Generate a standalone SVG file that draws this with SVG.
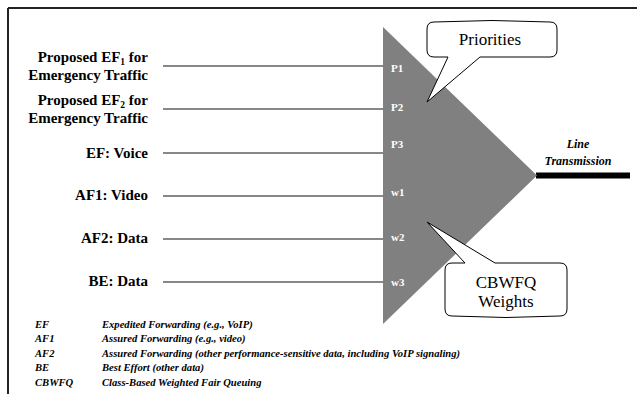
<svg xmlns="http://www.w3.org/2000/svg" width="637" height="394" viewBox="0 0 637 394">
<style>
text{font-family:'Liberation Serif','Times New Roman',Times,'DejaVu Serif','Noto Serif',serif}
.lbl{font-weight:bold;font-size:15px;fill:#000;text-anchor:end}
.pl{font-weight:bold;font-size:11px;fill:#fff}
.in{stroke:#888;stroke-width:2;fill:none}
.co{font-size:17px;fill:#000;text-anchor:middle}
.lg{font-weight:bold;font-style:italic;font-size:10.6px;fill:#000}
.lt{font-weight:bold;font-style:italic;font-size:12px;fill:#000;text-anchor:middle}
.call{fill:#fff;stroke:#000;stroke-width:1}
</style>
<rect width="637" height="394" fill="#fff"/>
<g id="frame">
<line x1="8" y1="8" x2="637" y2="8" stroke="#222" stroke-width="2"/>
<line x1="8" y1="8" x2="8" y2="394" stroke="#222" stroke-width="2"/>
</g>
<g id="connectors">
<line class="in" x1="163" y1="66" x2="384" y2="66"/>
<line class="in" x1="163" y1="109" x2="384" y2="109"/>
<line class="in" x1="163" y1="153" x2="384" y2="153"/>
<line class="in" x1="163" y1="196" x2="384" y2="196"/>
<line class="in" x1="163" y1="239" x2="384" y2="239"/>
<line class="in" x1="163" y1="282" x2="384" y2="282"/>
<line x1="536" y1="175.5" x2="630" y2="175.5" stroke="#000" stroke-width="6"/>
</g>
<g id="queue">
<polygon points="383,27 537,175.5 383,324" fill="#808080"/>
<text class="pl" x="391" y="72">P1</text>
<text class="pl" x="391" y="111">P2</text>
<text class="pl" x="391" y="148">P3</text>
<text class="pl" x="391" y="196">w1</text>
<text class="pl" x="391" y="241">w2</text>
<text class="pl" x="391" y="286">w3</text>
</g>
<g id="src-ef1">
<text class="lbl" x="148" y="62">Proposed EF<tspan font-size="9.5" dy="3">1</tspan><tspan dy="-3"> for</tspan></text>
<text class="lbl" x="148" y="80">Emergency Traffic</text>
</g>
<g id="src-ef2">
<text class="lbl" x="148" y="105">Proposed EF<tspan font-size="9.5" dy="3">2</tspan><tspan dy="-3"> for</tspan></text>
<text class="lbl" x="148" y="123">Emergency Traffic</text>
</g>
<g id="src-ef"><text class="lbl" x="148" y="158">EF: Voice</text></g>
<g id="src-af1"><text class="lbl" x="148" y="200">AF1: Video</text></g>
<g id="src-af2"><text class="lbl" x="148" y="243">AF2: Data</text></g>
<g id="src-be"><text class="lbl" x="148" y="286">BE: Data</text></g>
<g id="line-tx">
<text class="lt" x="578" y="148">Line</text>
<text class="lt" x="578" y="165">Transmission</text>
</g>
<g id="callout-priorities">
<path class="call" d="M434,22 Q492,19 550,22 Q557,22 557,29 L557,50 Q557,57 550,57 L480,57 L427,102 L448,57 L434,57 Q427,57 427,50 L427,29 Q427,22 434,22 Z"/>
<text class="co" x="490" y="45">Priorities</text>
</g>
<g id="callout-cbwfq">
<path class="call" d="M452,263 L465,263 L427,222 L495,263 L560,263 Q567,263 567,270 L567,309 Q567,316 560,316 Q506,319 452,316 Q445,316 445,309 L445,270 Q445,263 452,263 Z"/>
<text class="co" x="506" y="288">CBWFQ</text>
<text class="co" x="506" y="307">Weights</text>
</g>
<g id="legend">
<text class="lg" x="35" y="328">EF</text>
<text class="lg" x="102" y="328">Expedited Forwarding (e.g., VoIP)</text>
<text class="lg" x="35" y="342">AF1</text>
<text class="lg" x="102" y="342">Assured Forwarding (e.g., video)</text>
<text class="lg" x="35" y="357">AF2</text>
<text class="lg" x="102" y="357">Assured Forwarding (other performance-sensitive data, including VoIP signaling)</text>
<text class="lg" x="35" y="371">BE</text>
<text class="lg" x="102" y="371">Best Effort (other data)</text>
<text class="lg" x="35" y="386">CBWFQ</text>
<text class="lg" x="102" y="386">Class-Based Weighted Fair Queuing</text>
</g>
</svg>
